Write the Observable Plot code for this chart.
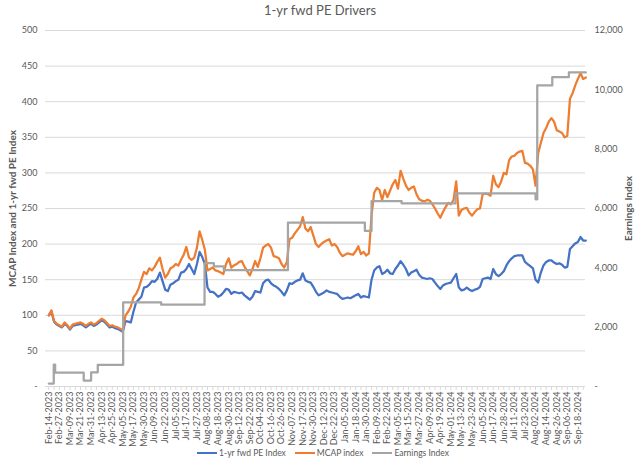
<!DOCTYPE html>
<html><head><meta charset="utf-8">
<script src="https://cdn.jsdelivr.net/npm/d3@7"></script>
<script src="https://cdn.jsdelivr.net/npm/@observablehq/plot@0.6"></script>
<style>
html,body{margin:0;padding:0;background:#fff;}
body{width:640px;height:463px;overflow:hidden;font-family:Lato,"Open Sans",sans-serif;color:#595959;}
#title{height:22px;line-height:21px;text-align:center;font-size:13px;color:#595959;}
#legend{display:flex;justify-content:center;gap:9px;font-size:8.5px;color:#595959;margin-top:6px;padding-left:6px;}
#legend span{display:inline-flex;align-items:center;gap:2px;}
#legend i{display:inline-block;width:20px;height:2.5px;}
</style></head><body>
<div id="title">1-yr fwd PE Drivers</div>
<div id="chart"></div>
<div id="legend"></div>
<script>
const dateLabels = ["Feb-14-2023","Feb-27-2023","Mar-09-2023","Mar-21-2023","Mar-31-2023","Apr-13-2023","Apr-25-2023","May-05-2023","May-17-2023","May-30-2023","Jun-09-2023","Jun-22-2023","Jul-05-2023","Jul-17-2023","Jul-27-2023","Aug-08-2023","Aug-18-2023","Aug-30-2023","Sep-12-2023","Sep-22-2023","Oct-04-2023","Oct-16-2023","Oct-26-2023","Nov-07-2023","Nov-17-2023","Nov-30-2023","Dec-12-2023","Dec-22-2023","Jan-05-2024","Jan-18-2024","Jan-30-2024","Feb-09-2024","Feb-22-2024","Mar-05-2024","Mar-15-2024","Mar-27-2024","Apr-09-2024","Apr-19-2024","May-01-2024","May-13-2024","May-23-2024","Jun-05-2024","Jun-17-2024","Jun-28-2024","Jul-11-2024","Jul-23-2024","Aug-02-2024","Aug-14-2024","Aug-26-2024","Sep-06-2024","Sep-18-2024"];

// series sampled every quarter of a date-label interval
const sampleStep = 0.25;

const peIndex = [100,105,91,87,85,83,88,85,80,85,86,87,88,86,83,86,88,85,87,90,93,91,87,83,84,82,81,79,77,
92,91,90,105,118,122,126,139,140,143,148,147,151,160,148,136,134,143,145,148,150,160,161,165,172,165,158,172,189,182,172,
139,133,133,130,126,128,132,137,136,130,133,132,131,132,128,125,122,126,134,133,132,145,149,150,145,142,140,137,133,128,
135,145,144,147,149,150,159,149,147,146,140,133,128,130,132,135,133,132,131,130,126,123,124,125,124,126,128,130,125,127,
126,125,150,163,167,169,158,160,164,159,158,165,170,176,171,165,156,160,162,164,157,153,152,151,152,151,146,141,137,142,
144,145,146,152,158,139,135,136,139,136,134,136,137,140,151,152,153,151,165,158,155,158,162,170,176,180,183,184,184,184,
175,172,169,166,150,146,160,170,175,177,177,174,172,173,171,167,168,193,197,201,203,210,205,205];

const mcapIndex = [100,107,92,88,86,84,90,86,81,87,88,89,90,88,85,88,90,87,89,92,95,93,89,85,86,84,83,81,79,
100,105,112,125,130,138,150,161,158,166,163,168,175,181,165,153,158,166,168,172,170,178,185,196,181,178,181,195,218,206,192,
163,165,167,163,162,160,158,172,180,167,170,172,175,176,168,162,156,165,176,168,180,195,198,200,195,183,182,180,172,167,
175,207,209,215,220,225,238,222,218,224,212,200,196,200,203,205,207,198,200,196,188,183,185,187,186,185,190,197,186,189,
184,187,240,272,279,276,262,276,266,275,284,290,278,303,292,282,276,279,281,270,263,261,260,262,261,256,250,243,237,245,
252,258,256,262,288,240,248,250,251,244,240,245,249,250,270,271,270,268,296,284,280,288,300,298,318,323,324,328,330,331,
314,313,310,305,282,328,342,356,363,372,377,372,360,358,356,350,352,404,412,423,432,440,432,434];

// Earnings Index: change points (in date-label units) and levels
const earnChangeAt = [0,0.47,0.6,3.3,4.0,4.63,7.03,10.62,14.72,15.6,16.54,22.6,29.87,30.5,33.34,38.44,46.0,46.16,47.58,49.15,50.75];
const earnLevel = [100,740,470,200,480,730,2834,2756,4158,4045,3922,5524,5244,6252,6175,6510,6308,10150,10430,10588,10588];

const leftTicks = [0,50,100,150,200,250,300,350,400,450,500];
const rightTicks = [0,2000,4000,6000,8000,10000,12000];
const leftMax = 500, rightMax = 12000;

const seriesNames = ["1-yr fwd PE Index","MCAP index","Earnings Index"];
const seriesColors = ["#4472C4","#ED7D31","#A5A5A5"];

const rows = peIndex.map((v,i)=>({t:i*sampleStep, pe:v, mcap:mcapIndex[i]}));
const earn = earnChangeAt.map((t,i)=>({t, e:earnLevel[i]}));
const toLeft = e => e*leftMax/rightMax;
const fmtR = d3.format(",");
const minorTicks = d3.range(0, dateLabels.length, 0.5);

const font = 'Lato, "Open Sans", sans-serif';
const chart = Plot.plot({
  width:640, height:420,
  marginLeft:45, marginRight:55, marginTop:8, marginBottom:56,
  x:{domain:[-0.31,50.72]},
  y:{domain:[0,leftMax]},
  style:{fontFamily:font, fontSize:"9px", color:"#595959", background:"#fff", overflow:"visible"},
  marks:[
    Plot.gridY(leftTicks.slice(1), {stroke:"#d9d9d9", strokeOpacity:1, strokeWidth:1}),
    Plot.ruleY([0], {stroke:"#d9d9d9", strokeWidth:1}),
    Plot.axisX({ticks:minorTicks, tickSize:4, tickFormat:()=>"", stroke:"#d9d9d9", strokeOpacity:1, label:null}),
    Plot.axisX({ticks:d3.range(dateLabels.length), tickFormat:i=>dateLabels[i], tickRotate:-90, tickSize:0, tickPadding:5, label:null, fill:"#595959", fontSize:9}),
    Plot.axisY({ticks:leftTicks, tickFormat:d=>d===0?"-":d, tickSize:0, tickPadding:8, label:null, fill:"#595959", fontSize:9}),
    Plot.axisY({anchor:"right", ticks:rightTicks.map(toLeft), tickFormat:d=>{const v=Math.round(d*rightMax/leftMax); return v===0?"-":fmtR(v);}, tickSize:0, tickPadding:9, label:null, fill:"#595959", fontSize:9}),
    Plot.text(["MCAP Index and 1-yr fwd PE Index"], {frameAnchor:"left", textAnchor:"middle", rotate:-90, dx:-33, fontWeight:"bold", fontSize:10, fill:"#595959"}),
    Plot.text(["Earnings Index"], {frameAnchor:"right", textAnchor:"middle", rotate:-90, dx:43, fontWeight:"bold", fontSize:10, fill:"#595959"}),
    Plot.line(rows, {x:"t", y:"pe", stroke:seriesColors[0], strokeWidth:2.25}),
    Plot.line(rows, {x:"t", y:"mcap", stroke:seriesColors[1], strokeWidth:2.25}),
    Plot.line(earn, {x:"t", y:d=>toLeft(d.e), stroke:seriesColors[2], strokeWidth:2.25, curve:"step-after"})
  ]
});
document.getElementById("chart").appendChild(chart);
const lg = document.getElementById("legend");
seriesNames.forEach((n,i)=>{
  const s=document.createElement("span");
  s.innerHTML=`<i style="background:${seriesColors[i]}"></i>${n}`;
  lg.appendChild(s);
});
</script>
</body></html>
